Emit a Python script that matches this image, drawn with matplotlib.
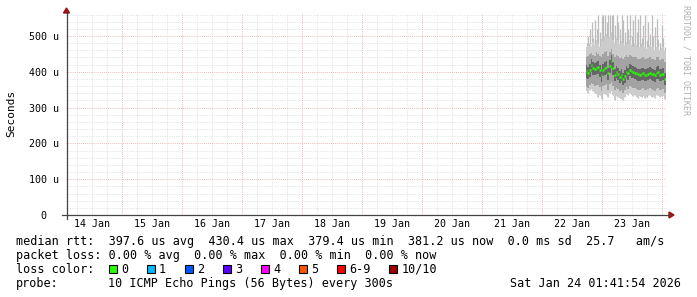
import numpy as np
import pandas as pd
import matplotlib
matplotlib.use("Agg")
import matplotlib.pyplot as plt
import matplotlib.dates as mdates
from matplotlib.patches import Rectangle, Polygon
from matplotlib.lines import Line2D
from datetime import datetime, timedelta

W, H = 697, 297
MONO = "DejaVu Sans Mono"

# ---- data (values in microseconds) ----
t_start = "2026-01-22 17:40"
step_min = 40
median = [402, 398, 405, 419, 410, 408,
          412, 413, 404, 391, 405, 410,
          413, 396, 415, 430, 410, 391,
          400, 395, 386, 392, 380, 388,
          400, 396, 405, 402, 400, 398,
          396, 393, 391, 395, 396, 392,
          391, 394, 397, 395, 393, 390,
          397, 399, 391, 393, 394, 381]
spike_top = [480, 500, 520, 540, 495, 545,
             520, 558, 510, 555, 558, 560,
             540, 560, 558, 560, 560, 530,
             560, 540, 520, 560, 545, 510,
             558, 520, 560, 500, 545, 560,
             510, 548, 560, 495, 530, 560,
             490, 540, 505, 560, 500, 525,
             548, 492, 480, 530, 495, 470]
smoke_top = [468, 472, 478, 470, 482, 475,
             490, 480, 470, 492, 485, 500,
             505, 495, 498, 510, 490, 480,
             495, 488, 478, 485, 480, 475,
             482, 478, 488, 476, 470, 480,
             475, 470, 468, 478, 472, 470,
             465, 470, 475, 468, 470, 462,
             470, 468, 462, 466, 470, 458]
mid_hi = [440, 445, 450, 452, 448, 445,
          455, 450, 445, 440, 450, 455,
          458, 445, 455, 465, 450, 440,
          448, 445, 438, 442, 435, 440,
          446, 442, 448, 445, 440, 442,
          440, 436, 435, 438, 440, 436,
          435, 438, 440, 437, 436, 434,
          440, 441, 434, 436, 437, 428]
inner_hi = [418, 414, 422, 435, 426, 424,
            428, 430, 420, 408, 422, 427,
            430, 412, 432, 446, 426, 408,
            416, 411, 402, 408, 397, 404,
            416, 412, 421, 418, 416, 414,
            412, 409, 407, 411, 412, 408,
            407, 410, 413, 411, 409, 406,
            413, 415, 407, 409, 410, 397]
inner_lo = [384, 380, 386, 400, 392, 390,
            394, 394, 385, 372, 387, 391,
            394, 378, 396, 410, 392, 373,
            382, 377, 368, 374, 362, 370,
            382, 378, 387, 384, 382, 380,
            378, 375, 373, 377, 378, 374,
            373, 376, 379, 377, 375, 372,
            379, 381, 373, 375, 376, 364]
mid_lo = [360, 356, 362, 370, 365, 360,
          362, 364, 358, 345, 360, 362,
          365, 350, 366, 372, 360, 348,
          356, 352, 345, 350, 342, 348,
          358, 352, 360, 358, 356, 354,
          352, 350, 348, 352, 354, 350,
          348, 352, 354, 352, 350, 346,
          352, 355, 348, 350, 352, 342]
smoke_bottom = [345, 340, 348, 352, 346, 342,
                338, 330, 336, 325, 340, 338,
                335, 330, 342, 345, 336, 322,
                332, 330, 328, 325, 322, 330,
                338, 334, 340, 336, 332, 335,
                330, 328, 332, 330, 334, 328,
                330, 334, 336, 330, 332, 328,
                334, 336, 330, 332, 334, 325]

y_ticks = [0, 100, 200, 300, 400, 500]
y_labels = ["0  ", "100 u", "200 u", "300 u", "400 u", "500 u"]
day_labels = ["14 Jan", "15 Jan", "16 Jan", "17 Jan", "18 Jan",
              "19 Jan", "20 Jan", "21 Jan", "22 Jan", "23 Jan"]

legend_rows = [
    "median rtt:  397.6 us avg  430.4 us max  379.4 us min  381.2 us now  0.0 ms sd  25.7   am/s",
    "packet loss: 0.00 % avg  0.00 % max  0.00 % min  0.00 % now",
]
loss_labels = ["0", "1", "2", "3", "4", "5", "6-9", "10/10"]
loss_colors = ["#26ff00", "#00b8ff", "#0059ff", "#5e00ff", "#ff00ff",
               "#ff5500", "#ff0000", "#a00000"]
probe_text = "10 ICMP Echo Pings (56 Bytes) every 300s"
stamp = "Sat Jan 24 01:41:54 2026"

end_time = datetime(2026, 1, 24, 1, 41, 54)
start_time = end_time - timedelta(days=10)


def fx(x):
    return x / W


def fy(y):
    return 1 - y / H


fig = plt.figure(figsize=(W / 100, H / 100), dpi=100)
fig.patch.set_facecolor("white")

# plot area in pixels: x 65.75..665.75, y 14..215
ax = fig.add_axes([fx(65.75), fy(215), 600 / W, 201 / H])
ymax = 201 / 0.358
ax.set_xlim(mdates.date2num(start_time), mdates.date2num(end_time))
ax.set_ylim(0, ymax)
for s in ax.spines.values():
    s.set_visible(False)
ax.set_facecolor("white")

# grid
d0 = mdates.date2num(datetime(2026, 1, 14))
for k in range(0, 41):
    xv = d0 + k * 0.25
    if k % 4 == 0:
        ax.axvline(xv, color="#e4a4a4", lw=0.6, ls=(0, (1, 1.5)), zorder=1)
    else:
        ax.axvline(xv, color="#d2d2d2", lw=0.5, ls=(0, (1, 1.5)), zorder=0.5)
for v in range(20, 570, 20):
    if v % 100 == 0:
        ax.axhline(v, color="#e4a4a4", lw=0.6, ls=(0, (1, 1.5)), zorder=1)
    else:
        ax.axhline(v, color="#d2d2d2", lw=0.5, ls=(0, (1, 1.5)), zorder=0.5)

# smoke
times = pd.date_range(t_start, periods=len(median), freq=f"{step_min}min")
xs = mdates.date2num(times.to_pydatetime())
w = step_min / 1440.0
xc = xs + w / 2
ax.vlines(xc, smoke_bottom, spike_top, color="#bdbdbd", lw=0.9, zorder=2)
ax.bar(xs, np.array(smoke_top) - np.array(smoke_bottom), width=w, bottom=smoke_bottom,
       align="edge", color="#cccccc", lw=0, zorder=3)
ax.bar(xs, np.array(mid_hi) - np.array(mid_lo), width=w, bottom=mid_lo,
       align="edge", color="#a3a3a3", lw=0, zorder=4)
ax.bar(xs, np.array(inner_hi) - np.array(inner_lo), width=w, bottom=inner_lo,
       align="edge", color="#666666", lw=0, zorder=5)
ax.hlines(median, xs, xs + w, color="#26ff00", lw=1.8, zorder=6)

# ticks
ax.set_yticks(y_ticks, y_labels, fontfamily=MONO, fontsize=7.2)
ax.set_xticks([d0 + k + 0.5 for k in range(10)], day_labels, fontfamily=MONO, fontsize=7.2)
ax.tick_params(axis="y", length=0, pad=5)
ax.tick_params(axis="x", length=0, pad=3)

# axis lines and arrows
fig.add_artist(Line2D([fx(61.5), fx(670)], [fy(215), fy(215)], color="#444444", lw=0.9))
fig.add_artist(Line2D([fx(66.5), fx(66.5)], [fy(219), fy(12)], color="#444444", lw=0.9))
fig.add_artist(Polygon([[fx(669), fy(212)], [fx(669), fy(218)], [fx(674), fy(215)]],
                       closed=True, color="#a01010", transform=fig.transFigure))
fig.add_artist(Polygon([[fx(63.5), fy(13)], [fx(69.5), fy(13)], [fx(66.5), fy(8)]],
                       closed=True, color="#a01010", transform=fig.transFigure))

# labels
fig.text(fx(11), fy(113), "Seconds", rotation=90, ha="center", va="center",
         fontfamily=MONO, fontsize=8)
fig.text(fx(686), fy(60), "RRDTOOL / TOBI OETIKER", rotation=270, ha="center", va="center",
         fontfamily=MONO, fontsize=6, color="#b0b0b0")

# legend
cw = 7.05
fs = 8.45
fig.text(fx(16), fy(241.5), legend_rows[0], ha="left", va="center", fontfamily=MONO, fontsize=fs)
fig.text(fx(16), fy(255.5), legend_rows[1], ha="left", va="center", fontfamily=MONO, fontsize=fs)
fig.text(fx(16), fy(269.3), "loss color:", ha="left", va="center", fontfamily=MONO, fontsize=fs)
cur = 108.5
for lab, col in zip(loss_labels, loss_colors):
    fig.add_artist(Rectangle((fx(cur), fy(273.3)), 8 / W, 8 / H, transform=fig.transFigure,
                             facecolor=col, edgecolor="black", lw=0.8))
    tx = cur + 12.5
    fig.text(fx(tx), fy(269.3), lab, ha="left", va="center", fontfamily=MONO, fontsize=fs)
    cur = tx + len(lab) * cw + 18.5
fig.text(fx(16), fy(283.3), "probe:", ha="left", va="center", fontfamily=MONO, fontsize=fs)
fig.text(fx(108.5), fy(283.3), probe_text, ha="left", va="center", fontfamily=MONO, fontsize=fs)
fig.text(fx(681), fy(283.3), stamp, ha="right", va="center", fontfamily=MONO, fontsize=fs)

fig.savefig("out.png", dpi=100)
